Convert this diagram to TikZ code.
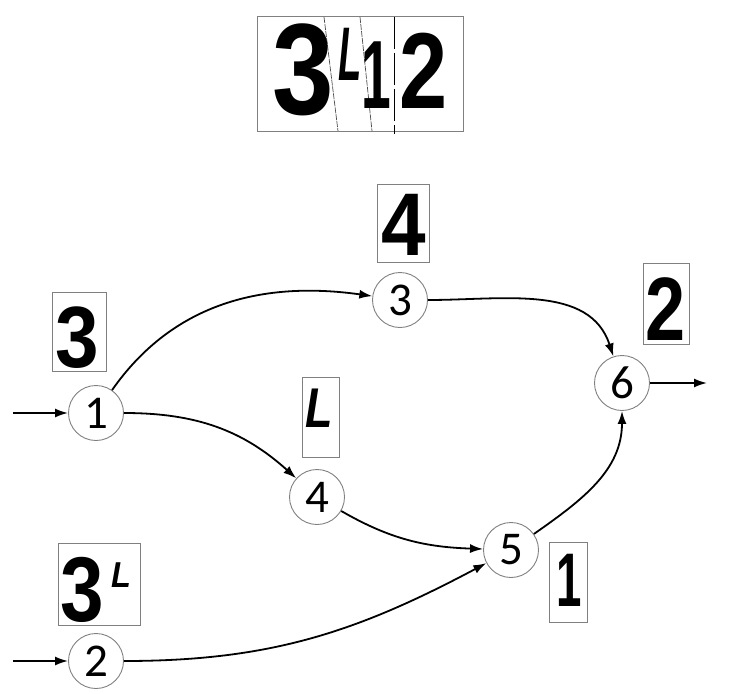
\documentclass[tikz,border=0pt]{standalone}
\usepackage{fontspec}
\usetikzlibrary{arrows.meta}
\newfontfamily\numfont{Carlito}
\newfontfamily\handfont{Liberation Sans}

\begin{document}
\begin{tikzpicture}[x=1pt,y=1pt,>={Latex[length=13pt,width=9pt]},
	state/.style={circle,draw=gray,line width=0.9pt,fill=white,minimum size=55pt,inner sep=0pt,font=\numfont\fontsize{47pt}{47pt}\selectfont},
	crop/.style={draw=gray,line width=1pt,inner sep=0pt},
	hand/.style={inner sep=0pt,font=\handfont\bfseries\fontsize{#1}{#1}\selectfont},
	edge/.style={->,line width=1.8pt}]
			\useasboundingbox (0,0) rectangle (730,-693);

			% whole word
			\draw[crop] (257,-17) rectangle (463,-131);
			\draw[black!70,line width=0.7pt,dash pattern=on 6pt off 1pt] (324,-17)--(338,-131);
			\draw[black!70,line width=0.7pt,dash pattern=on 6pt off 1pt] (360,-17)--(372,-131);
			\draw[line width=1pt,dash pattern=on 32pt off 4pt] (394,-17)--(394,-134);
			\node[hand=130pt] (w1) at (303.5,-70) {\scalebox{0.85}[1]{3}};
			\node[hand=76pt] (w2) at (350,-54.5) {\scalebox{0.5}[1]{\itshape L}};
			\node[hand=97pt] (w3) at (376,-75) {\scalebox{0.55}[1]{1}};
			\node[hand=108pt] (w4) at (423.5,-71) {\scalebox{0.8}[1]{2}};

			% segments
			\node[crop,minimum width=54pt,minimum height=79pt] (b1) at (79,-331.5) {};
			\node[hand=87pt] (s1) at (77.5,-338) {\scalebox{0.9}[1]{3}};
			\node[crop,minimum width=82pt,minimum height=82pt] (b2) at (99,-584) {};
			\node[hand=92pt] (s2) at (82,-590) {\scalebox{0.85}[1]{3}};
			\node[hand=36pt] (s2b) at (121,-575) {\scalebox{0.9}[1]{\itshape L}};
			\node[crop,minimum width=52pt,minimum height=78pt] (b3) at (403,-223) {};
			\node[hand=89pt] (s3) at (403.5,-225) {\scalebox{0.9}[1]{4}};
			\node[crop,minimum width=37pt,minimum height=80pt] (b4) at (320.5,-417) {};
			\node[hand=56pt] (s4) at (319,-408) {\scalebox{0.8}[1]{\itshape L}};
			\node[crop,minimum width=38pt,minimum height=80pt] (b5) at (568,-582) {};
			\node[hand=76pt] (s5) at (569,-580.5) {\scalebox{0.6}[1]{1}};
			\node[crop,minimum width=46pt,minimum height=81pt] (b6) at (666,-303.5) {};
			\node[hand=90pt] (s6) at (665.5,-309.5) {\scalebox{0.8}[1]{2}};

			% graph
			\node[state] (n1) at (96,-413) {1};
			\node[state] (n2) at (96,-661) {2};
			\node[state] (n3) at (400,-300) {3};
			\node[state] (n4) at (317,-497) {4};
			\node[state] (n5) at (511,-550) {5};
			\node[state] (n6) at (622,-383) {6};
			\coordinate (in1) at (13,-413);
			\coordinate (in2) at (13,-661);
			\coordinate (out) at (707,-383);

			\draw[edge] (in1) -- (n1);
			\draw[edge] (in2) -- (n2);
			\draw[edge] (n1) to[out=55,in=172] (n3);
			\draw[edge] (n1) to[out=0,in=138] (n4);
			\draw[edge] (n3) to[out=0,in=108] (n6);
			\draw[edge] (n4) to[out=-30,in=178] (n5);
			\draw[edge] (n2) to[out=0,in=208] (n5);
			\draw[edge] (n5) to[out=35,in=-90] (n6);
			\draw[edge] (n6) -- (out);
		\end{tikzpicture}
\end{document}
